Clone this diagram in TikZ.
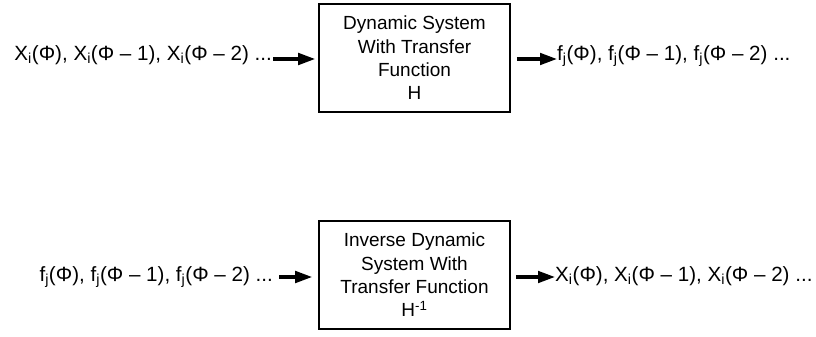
\documentclass[tikz,border=0pt]{standalone}
\usepackage{fontspec}
\setmainfont{Liberation Sans}
\usetikzlibrary{arrows.meta}
\newcommand{\sig}[2]{#1\textsubscript{#2}}
\begin{document}
\begin{tikzpicture}[x=1pt,y=-1pt,
  sysbox/.style={draw,line width=1.6pt,minimum width=191pt,minimum height=108pt,
    align=center,font=\fontsize{19}{23.3}\selectfont,inner sep=0pt},
  seq/.style={font=\fontsize{20.6}{24}\selectfont,inner sep=0pt},
  flow/.style={line width=3.2pt,-{Triangle[length=17pt,width=11.5pt]}}]
\useasboundingbox (0,0) rectangle (816,337);
% rows along which the signals travel
\coordinate (row1) at (0,59);
\coordinate (row2) at (0,277);
% forward system
\node[sysbox] (h) at (414.5,58) {Dynamic System\\With Transfer\\Function\\H};
\node[seq,anchor=base east] (xin) at (272,60) {\sig{X}{i}(Φ), \sig{X}{i}(Φ – 1), \sig{X}{i}(Φ – 2) ...};
\node[seq,anchor=base west] (fout) at (557,60) {\sig{f}{j}(Φ), \sig{f}{j}(Φ – 1), \sig{f}{j}(Φ – 2) ...};
\draw[flow,shorten >=3pt] ([xshift=1pt]xin.east |- row1) -- (h.west |- row1);
\draw[flow] ([xshift=6pt]h.east |- row1) -- (fout.west |- row1);
% inverse system
\node[sysbox] (hi) at (414.5,275) {Inverse Dynamic\\System With\\Transfer Function\\H\textsuperscript{-1}};
\node[seq,anchor=base east] (fin) at (273,281) {\sig{f}{j}(Φ), \sig{f}{j}(Φ – 1), \sig{f}{j}(Φ – 2) ...};
\node[seq,anchor=base west] (xout) at (555,281) {\sig{X}{i}(Φ), \sig{X}{i}(Φ – 1), \sig{X}{i}(Φ – 2) ...};
\draw[flow,shorten >=6pt] ([xshift=6pt]fin.east |- row2) -- (hi.west |- row2);
\draw[flow] ([xshift=5pt]hi.east |- row2) -- (xout.west |- row2);
\end{tikzpicture}
\end{document}
